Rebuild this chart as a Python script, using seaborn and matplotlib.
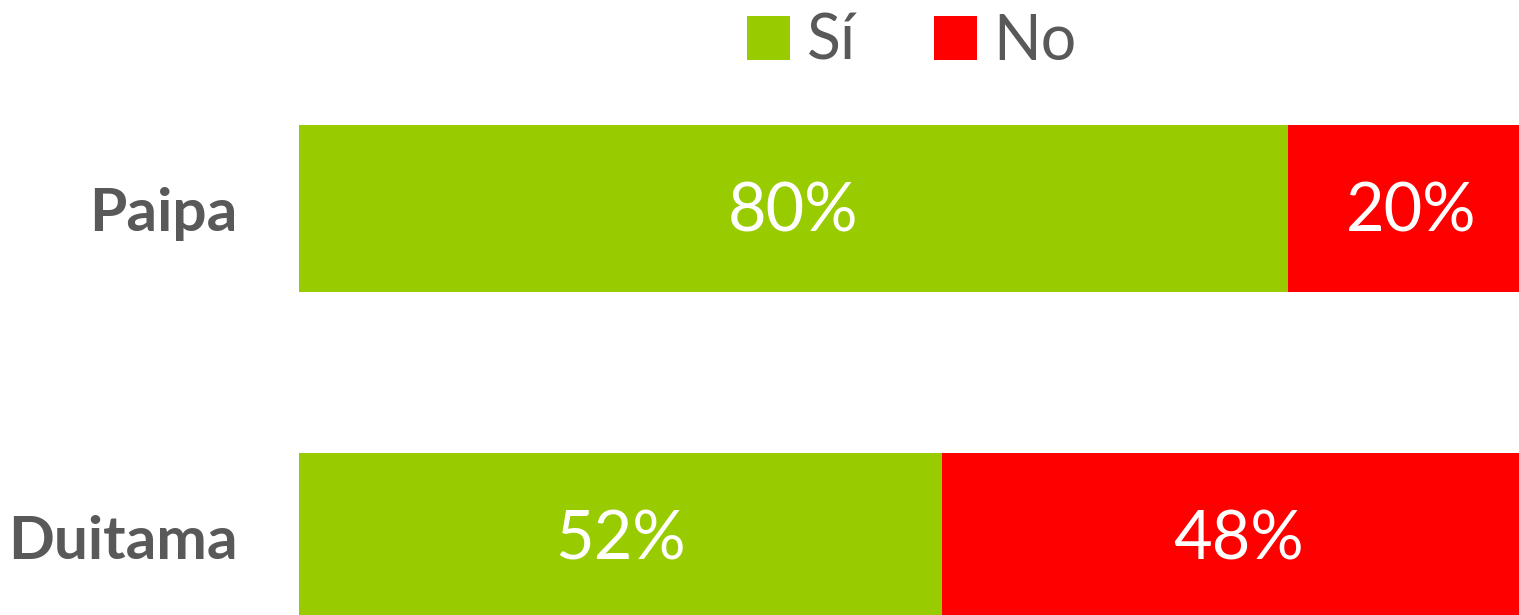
import matplotlib
matplotlib.use("Agg")
import matplotlib.pyplot as plt
import seaborn as sns
import pandas as pd
from matplotlib.patches import Patch

categories = ["Paipa", "Duitama"]
si_values = [80, 52]
no_values = [20, 48]
series_names = ["Sí", "No"]

GREEN = "#99CC00"
RED = "#FF0000"
GRAY = "#595959"

sns.set_theme(style="white")
plt.rcParams["font.family"] = ["Lato", "DejaVu Sans"]

df = pd.DataFrame({"cat": categories, "si": si_values, "no": no_values})
df["total"] = df["si"] + df["no"]

fig = plt.figure(figsize=(15.19, 6.15), dpi=100)
ax = fig.add_axes([299 / 1519, 0, 1 - 299 / 1519, 1])

sns.barplot(data=df, x="total", y="cat", orient="h", color=RED, width=0.509,
            saturation=1, ax=ax, edgecolor="none")
sns.barplot(data=df, x="si", y="cat", orient="h", color=GREEN, width=0.509,
            saturation=1, ax=ax, edgecolor="none")

ax.set_xlim(0, 98.7)
ax.set_ylim(1.2393, -0.6357)
ax.set_xlabel("")
ax.set_ylabel("")
ax.set_xticks([])
for s in ax.spines.values():
    s.set_visible(False)
ax.tick_params(axis="y", length=0, pad=44)
for lab in ax.get_yticklabels():
    lab.set_fontsize(43.5)
    lab.set_fontweight("bold")
    lab.set_color(GRAY)

for i, (s, n) in enumerate(zip(si_values, no_values)):
    ax.text(s / 2, i + 0.012, f"{s}%", ha="center", va="center", color="white", fontsize=48)
    ax.text(s + n / 2, i + 0.012, f"{n}%", ha="center", va="center", color="white", fontsize=48)

handles = [Patch(facecolor=GREEN, edgecolor="none", label=series_names[0]),
           Patch(facecolor=RED, edgecolor="none", label=series_names[1])]
leg = fig.legend(handles=handles, ncol=2, loc="center", bbox_to_anchor=(912 / 1519, 1 - 42 / 615),
                 frameon=False, fontsize=45, handlelength=0.69, handleheight=0.69,
                 handletextpad=0.26, columnspacing=1.25)
for t in leg.get_texts():
    t.set_color(GRAY)

fig.savefig("out.png", dpi=100)
